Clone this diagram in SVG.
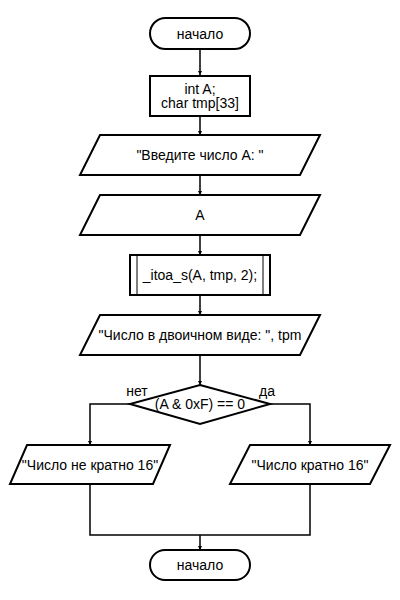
<svg xmlns="http://www.w3.org/2000/svg" width="400" height="600" viewBox="0 0 400 600">
<style>
.s{fill:#fff;stroke:#000;stroke-width:2}
.c{fill:none;stroke:#000;stroke-width:1.5}
text{font-family:"Liberation Sans",Arial,sans-serif;font-size:14px;fill:#000;text-anchor:middle;dominant-baseline:central}
</style>
<defs>
<marker id="a" viewBox="0 0 6 6" refX="6" refY="3" markerWidth="4" markerHeight="4" orient="auto" markerUnits="userSpaceOnUse">
<path d="M0,0L6,3L0,6z" fill="#000"/>
</marker>
</defs>
<rect width="400" height="600" fill="#fff"/>
<g id="connectors">
<path class="c" d="M200,49V75" marker-end="url(#a)"/>
<path class="c" d="M200,116V135" marker-end="url(#a)"/>
<path class="c" d="M200,175V195" marker-end="url(#a)"/>
<path class="c" d="M200,235V255" marker-end="url(#a)"/>
<path class="c" d="M200,295V315" marker-end="url(#a)"/>
<path class="c" d="M200,355V385" marker-end="url(#a)"/>
<path class="c" d="M130,404H90V445" marker-end="url(#a)"/>
<path class="c" d="M270,404H310V445" marker-end="url(#a)"/>
<path class="c" d="M90,484V535H310V484"/>
<path class="c" d="M200,535V550" marker-end="url(#a)"/>
</g>
<g id="start">
<rect class="s" x="150" y="18" width="100" height="31" rx="15.5"/>
<text x="200" y="33.5">начало</text>
</g>
<g id="decl">
<rect class="s" x="150" y="76" width="100" height="40"/>
<text x="200" y="88.5">int A;</text>
<text x="200" y="103">char tmp[33]</text>
</g>
<g id="out1">
<polygon class="s" points="100,135 320,135 300,175 80,175"/>
<text x="200" y="155">"Введите число А: "</text>
</g>
<g id="in1">
<polygon class="s" points="100,195 320,195 300,235 80,235"/>
<text x="200" y="215">A</text>
</g>
<g id="itoa">
<rect class="s" x="130" y="255" width="140" height="40"/>
<line x1="137" y1="255" x2="137" y2="295" stroke="#000" stroke-width="1"/>
<line x1="263" y1="255" x2="263" y2="295" stroke="#000" stroke-width="1"/>
<text x="200" y="275">_itoa_s(A, tmp, 2);</text>
</g>
<g id="out2">
<polygon class="s" points="100,315 320,315 300,355 80,355"/>
<text x="200" y="335">"Число в двоичном виде: ", tpm</text>
</g>
<g id="cond">
<polygon class="s" points="200,385 270,404 200,424 130,404"/>
<text x="200" y="404">(A &amp; 0xF) == 0</text>
<text x="137" y="391">нет</text>
<text x="267" y="391">да</text>
</g>
<g id="no">
<polygon class="s" points="27,445 170,445 153,484 10,484"/>
<text x="90" y="464.5">"Число не кратно 16"</text>
</g>
<g id="yes">
<polygon class="s" points="250,445 390,445 370,484 230,484"/>
<text x="310" y="464.5">"Число кратно 16"</text>
</g>
<g id="end">
<rect class="s" x="150" y="550" width="100" height="30" rx="15"/>
<text x="200" y="565">начало</text>
</g>
</svg>
